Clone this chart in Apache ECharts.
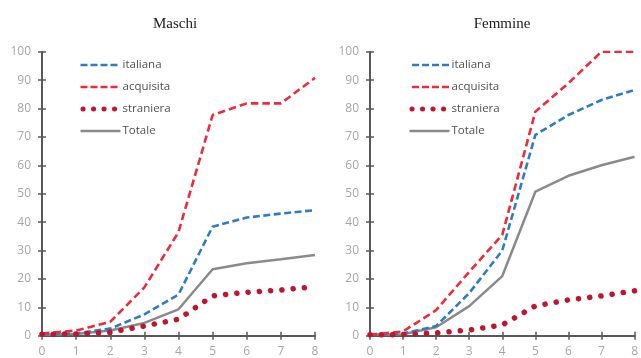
<!DOCTYPE html>
<html><head><meta charset="utf-8">
<script src="https://cdn.jsdelivr.net/npm/echarts@6/dist/echarts.min.js"></script>
<style>html,body{margin:0;padding:0;background:#fff}#c{width:641px;height:358px}</style>
</head><body><div id="c"></div>
<script>
const categories = ['0','1','2','3','4','5','6','7','8'];
const seriesNames = ['italiana','acquisita','straniera','Totale'];
const yTicks = [0,10,20,30,40,50,60,70,80,90,100];
const titles = ['Maschi','Femmine'];

const maschiItaliana  = [0.5, 0.8, 2.5, 7.5, 14.5, 38.4, 41.6, 43.0, 44.2];
const maschiAcquisita = [0.8, 1.8, 4.9, 17.0, 36.5, 77.7, 81.8, 81.8, 90.8];
const maschiStraniera = [0.5, 0.6, 1.2, 3.4, 5.8, 14.0, 15.3, 16.1, 17.2];
const maschiTotale    = [0.3, 0.6, 1.8, 4.5, 9.3, 23.4, 25.5, 26.9, 28.4];

const femmineItaliana  = [0.3, 0.8, 3.4, 15.0, 30.0, 70.7, 77.7, 83.0, 86.5];
const femmineAcquisita = [0.3, 1.5, 9.0, 22.5, 35.5, 78.9, 88.9, 100, 100];
const femmineStraniera = [0.3, 0.4, 1.0, 2.0, 3.8, 10.5, 12.6, 14.0, 15.8];
const femmineTotale    = [0.3, 0.5, 3.0, 10.4, 21.0, 50.7, 56.3, 60.0, 63.0];

const styles = [
  {color:'#2e7dc4', lineStyle:{width:2.6, type:[7,3.5], cap:'butt'}},
  {color:'#ee2b3d', lineStyle:{width:2.6, type:[7.5,4], cap:'butt'}},
  {color:'#c01530', lineStyle:{width:5.5, type:[0.1,11.2], cap:'round'}},
  {color:'#8a8a8a', lineStyle:{width:2.5, type:'solid'}}
];
const legendLine = [
  {width:2.6, type:[7,3], cap:'butt'},
  {width:2.6, type:[7,3], cap:'butt'},
  {width:5, type:[0.1,10.4], cap:'round', dashOffset:-2.5},
  {width:2.5, type:'solid'}
];
const panels = [
  [maschiItaliana, maschiAcquisita, maschiStraniera, maschiTotale],
  [femmineItaliana, femmineAcquisita, femmineStraniera, femmineTotale]
];
const grids = [
  {left:42, top:51.7, width:273, height:284},
  {left:370, top:51.7, width:268.8, height:284}
];
const axisCol = '#595959';
const labelStyle = {color:'#a6a6a6', fontSize:12, fontFamily:'Open Sans'};

const xAxis = [], yAxis = [], series = [], legend = [], title = [];
grids.forEach((g, i) => {
  xAxis.push({type:'category', data:categories, boundaryGap:false, gridIndex:i,
    axisLine:{lineStyle:{color:axisCol, width:2}},
    axisTick:{show:true, length:4, inside:false, lineStyle:{color:axisCol, width:1.5}},
    axisLabel:{...labelStyle, margin:10}, splitLine:{show:false}});
  xAxis.push({type:'category', data:categories, boundaryGap:false, gridIndex:i, position:'bottom',
    axisLine:{show:false},
    axisTick:{show:true, length:4, inside:true, lineStyle:{color:axisCol, width:1.5}},
    axisLabel:{show:false}, splitLine:{show:false}});
  yAxis.push({type:'value', min:0, max:100, interval:10, gridIndex:i,
    axisLine:{show:true, lineStyle:{color:axisCol, width:2}},
    axisTick:{show:true, length:4, inside:false, lineStyle:{color:axisCol, width:1.5}},
    axisLabel:{...labelStyle, margin:11}, splitLine:{show:false}});
  yAxis.push({type:'value', min:0, max:100, interval:10, gridIndex:i, position:'left',
    axisLine:{show:false},
    axisTick:{show:true, length:4, inside:true, lineStyle:{color:axisCol, width:1.5}},
    axisLabel:{show:false}, splitLine:{show:false}});
  panels[i].forEach((vals, k) => {
    series.push({name:seriesNames[k], type:'line', xAxisIndex:i*2, yAxisIndex:i*2,
      data:vals, symbol:'none', smooth:false, z: k===3?2:3,
      itemStyle:{color:styles[k].color},
      lineStyle:{color:styles[k].color, ...styles[k].lineStyle}});
  });
  legend.push({data:seriesNames.map((n, k) => ({name:n, lineStyle:{color:styles[k].color, ...legendLine[k]}})),
    orient:'vertical', left: i===0 ? 78 : 407, top:59, padding:0,
    itemWidth:40, itemHeight:14, itemGap:10, selectedMode:false,
    itemStyle:{opacity:0},
    textStyle:{color:'#505050', fontSize:11.5, fontFamily:'Open Sans', padding:[0,0,0,-3]}});
  title.push({text:titles[i], left: i===0 ? 170 : 497, top:12, textAlign:'center',
    textStyle:{fontFamily:'Liberation Serif', fontSize:15, fontWeight:'normal', color:'#202020'}});
});

const chart = echarts.init(document.getElementById('c'), null, {renderer:'canvas'});
chart.setOption({animation:false, backgroundColor:'#fff', title, legend, grid:grids, xAxis, yAxis, series});
</script></body></html>
